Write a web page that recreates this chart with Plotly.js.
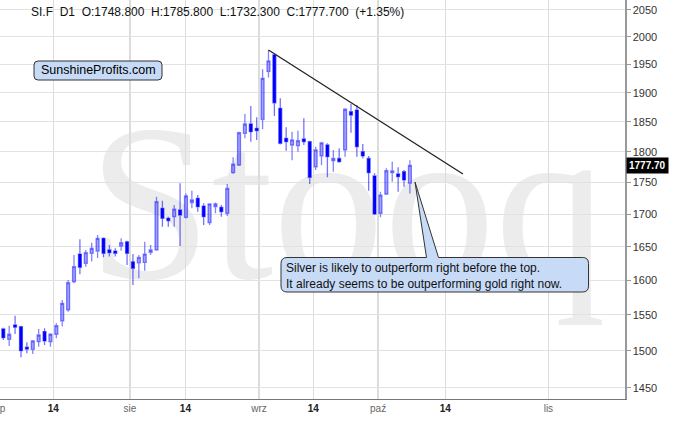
<!DOCTYPE html>
<html><head><meta charset="utf-8">
<script src="https://cdn.plot.ly/plotly-3.0.1.min.js"></script>
<style>html,body{margin:0;padding:0;background:#fff;overflow:hidden}</style>
</head><body><div id="chart" style="width:685px;height:438px"></div>
<script>
// ---- data (SI.F daily, Jul–Oct 2019) ----
const openP  = [1530.2,1515.8,1535.8,1533.2,1504.7,1501.9,1512.4,1526.4,1512.4,1522.7,
                1541.4,1557.0,1597.9,1638.9,1625.1,1639.9,1643.4,1662.7,1645.0,1643.4,
                1651.0,1657.4,1627.2,1625.7,1626.4,1641.6,1645.0,1709.0,1693.4,1695.9,
                1706.5,1695.0,1718.0,1724.8,1712.6,1686.7,1711.6,1710.6,1701.3,1765.8,
                1778.2,1830.6,1846.3,1839.0,1854.3,1937.4,1966.9,1873.1,1822.3,1811.1,
                1810.0,1821.1,1816.6,1775.4,1793.0,1811.1,1785.2,1789.0,1802.9,1867.2,
                1870.1,1800.0,1789.0,1760.4,1701.3,1731.6,1765.8,1763.7,1767.4,1748.8];
const highP  = [1532.0,1534.8,1548.9,1534.8,1511.6,1514.8,1530.2,1531.1,1524.0,1538.3,
                1571.4,1600.5,1637.5,1661.2,1645.0,1656.0,1667.8,1664.0,1652.6,1647.5,
                1662.7,1658.9,1638.9,1637.5,1657.6,1652.6,1727.3,1721.0,1695.9,1714.2,
                1748.6,1732.5,1736.8,1730.0,1716.9,1716.9,1718.0,1714.2,1747.4,1790.8,
                1833.3,1863.3,1876.9,1857.7,1941.2,1975.9,1968.7,1890.3,1840.7,1833.3,
                1835.0,1856.0,1818.0,1808.3,1816.6,1813.9,1802.9,1805.7,1873.1,1880.4,
                1878.7,1812.7,1793.0,1764.8,1735.2,1773.1,1783.6,1774.7,1770.2,1785.8];
const lowP   = [1514.8,1506.5,1523.1,1491.0,1496.4,1495.5,1505.5,1507.9,1505.5,1517.1,
                1533.6,1554.6,1595.5,1608.8,1620.0,1627.6,1633.1,1634.0,1635.1,1635.1,
                1643.9,1622.6,1593.0,1602.9,1614.1,1637.5,1643.9,1680.5,1680.5,1680.5,
                1651.0,1693.0,1709.0,1703.8,1683.1,1683.1,1701.3,1695.9,1697.0,1764.0,
                1776.5,1822.3,1816.6,1819.5,1837.3,1926.9,1860.0,1812.0,1801.7,1786.1,
                1800.0,1811.1,1747.4,1770.2,1778.2,1758.2,1767.4,1782.0,1791.9,1831.6,
                1791.9,1789.0,1736.8,1698.6,1695.0,1730.0,1751.2,1735.2,1743.1,1732.3];
const closeP = [1517.9,1522.7,1532.6,1500.0,1502.3,1513.4,1521.7,1513.4,1522.7,1534.8,
                1566.5,1596.4,1620.0,1619.1,1641.0,1647.5,1662.7,1639.9,1641.0,1639.9,
                1656.0,1639.9,1617.6,1633.8,1638.9,1645.0,1719.4,1693.4,1689.7,1707.8,
                1698.6,1728.4,1722.1,1711.6,1695.9,1715.8,1715.8,1703.8,1740.5,1779.8,
                1831.6,1846.3,1833.3,1835.0,1925.2,1956.1,1882.6,1813.9,1816.6,1819.5,
                1818.3,1816.6,1758.2,1802.9,1814.6,1791.9,1789.0,1783.6,1871.4,1861.6,
                1808.3,1793.0,1765.8,1700.2,1729.9,1769.0,1768.5,1759.3,1754.0,1777.7];
// x tick positions in trading-day slots and their labels
const tickPos    = [-0.5, 8.48, 21.5, 30.9, 43.4, 52.6, 63.6, 75.0, 92.5];
const tickLabels = ['lip','14','sie','14','wrz','14','paź','14','lis'];
const yTicks     = [1450,1500,1550,1600,1650,1700,1750,1800,1850,1900,1950,2000,2050];
// resistance line (slot, price)
const trendX = [45, 78];
const trendY = [1975.9, 1763.7];

// ---- geometry helpers (pixels -> paper) ----
const W=685, H=438, M={l:0, r:60, t:0, b:39};
const PW=W-M.l-M.r, PH=H-M.t-M.b;
const px = x => (x - M.l)/PW;
const py = y => 1 - (y - M.t)/PH;
function roundRect(x0,y0,x1,y1,r,tail){
  let d = `M ${px(x0+r)},${py(y0)} `;
  if(tail){ d += `L ${px(tail.a)},${py(y0)} L ${px(tail.tx)},${py(tail.ty)} L ${px(tail.b)},${py(y0)} `; }
  d += `L ${px(x1-r)},${py(y0)} Q ${px(x1)},${py(y0)} ${px(x1)},${py(y0+r)} `;
  d += `L ${px(x1)},${py(y1-r)} Q ${px(x1)},${py(y1)} ${px(x1-r)},${py(y1)} `;
  d += `L ${px(x0+r)},${py(y1)} Q ${px(x0)},${py(y1)} ${px(x0)},${py(y1-r)} `;
  d += `L ${px(x0)},${py(y0+r)} Q ${px(x0)},${py(y0)} ${px(x0+r)},${py(y0)} Z`;
  return d;
}

const idx = closeP.map((_, i) => i);
const n = closeP.length;
const last = n - 1;
const pct = (closeP[last] - closeP[last-1]) / closeP[last-1] * 100;
const sp = '&nbsp;&nbsp;';
const titleText = 'SI.F' + sp + 'D1' + sp + 'O:' + openP[last].toFixed(3) + sp +
  'H:' + highP[last].toFixed(3) + sp + 'L:' + lowP[last].toFixed(3) + sp +
  'C:' + closeP[last].toFixed(3) + sp + '(' + (pct >= 0 ? '+' : '') + pct.toFixed(2) + '%)';

const FONT = 'Liberation Sans, Arial, Helvetica, sans-serif';
const fill = '#c7dbf7';

const traces = [
  {
    type: 'candlestick', x: idx, open: openP, high: highP, low: lowP, close: closeP,
    whiskerwidth: 0, hoverinfo: 'skip', showlegend: false,
    increasing: {line: {color: 'rgba(30,30,255,0.55)', width: 1.3}, fillcolor: 'rgba(50,50,255,0.45)'},
    decreasing: {line: {color: 'rgba(0,0,255,0.55)', width: 1.3}, fillcolor: '#0000ff'}
  },
  {
    type: 'scatter', mode: 'lines', x: trendX, y: trendY, hoverinfo: 'skip', showlegend: false,
    line: {color: '#222', width: 1.3}
  }
];

const layout = {
  width: W, height: H, margin: M, paper_bgcolor: '#fff', plot_bgcolor: '#fff',
  showlegend: false, boxgap: 0.3,
  font: {family: FONT, size: 11, color: '#222'},
  xaxis: {
    range: [-0.56, 105.5], rangeslider: {visible: false}, fixedrange: true,
    tickmode: 'array', tickvals: tickPos, ticklabeloverflow: 'allow',
    ticktext: tickLabels.map(t => t === '14' ? '<b>14</b>' : '<span style="color:#666">' + t + '</span>'),
    tickfont: {size: 10, color: '#222'}, ticks: '', ticklen: 0,
    showgrid: true, gridcolor: '#dcdcdc', gridwidth: 1.4, zeroline: false,
    showline: true, linecolor: '#777', linewidth: 1
  },
  yaxis: {
    type: 'log', side: 'right', fixedrange: true,
    range: [Math.log10(1435.0), Math.log10(2068.5)],
    tickmode: 'array', tickvals: yTicks, ticktext: yTicks.map(String),
    tickfont: {size: 11, color: '#333'}, ticks: 'outside', ticklen: 4, tickcolor: '#999',
    showgrid: true, gridcolor: '#e2e2e2', gridwidth: 1, zeroline: false,
    showline: true, linecolor: '#999', linewidth: 1.5
  },
  shapes: [
    {type: 'rect', xref: 'paper', yref: 'paper', layer: 'below',
     x0: px(92), x1: px(602), y0: py(294), y1: py(64),
     line: {width: 0}, fillcolor: 'rgba(0,0,0,0)',
     label: {text: 'Stooq', textposition: 'middle center',
             font: {family: 'Liberation Serif, Times New Roman, serif', size: 222, color: '#ececec'}}},
    {type: 'path', xref: 'paper', yref: 'paper', layer: 'above',
     path: roundRect(34, 61, 162, 80, 4), fillcolor: fill, line: {color: '#333', width: 1}},
    {type: 'path', xref: 'paper', yref: 'paper', layer: 'above',
     path: roundRect(281, 257.5, 588.5, 292, 6, {a: 426.5, b: 438.5, tx: 415, ty: 182}),
     fillcolor: fill, line: {color: '#333', width: 1}}
  ],
  annotations: [
    {xref: 'paper', yref: 'paper', x: px(29), y: py(12), xanchor: 'left', yanchor: 'middle',
     showarrow: false, text: titleText, font: {family: FONT, size: 12, color: '#111'}},
    {xref: 'paper', yref: 'paper', x: px(98), y: py(70.5), xanchor: 'center', yanchor: 'middle',
     showarrow: false, text: 'SunshineProfits.com', font: {family: FONT, size: 12.5, color: '#000'}},
    {xref: 'paper', yref: 'paper', x: px(284), y: py(275.5), xanchor: 'left', yanchor: 'middle',
     align: 'left', showarrow: false,
     text: 'Silver is likely to outperform right before the top.<br>It already seems to be outperforming gold right now.',
     font: {family: FONT, size: 12, color: '#111'}},
    {xref: 'paper', yref: 'y', x: 1, xshift: 1, y: Math.log10(closeP[last]), xanchor: 'left', yanchor: 'middle',
     showarrow: false, text: '<b>' + closeP[last].toFixed(2) + '</b>', bgcolor: '#000', borderpad: 2,
     font: {family: FONT, size: 10, color: '#fff'}}
  ]
};

Plotly.newPlot('chart', traces, layout, {displayModeBar: false, staticPlot: true});
</script></body></html>
